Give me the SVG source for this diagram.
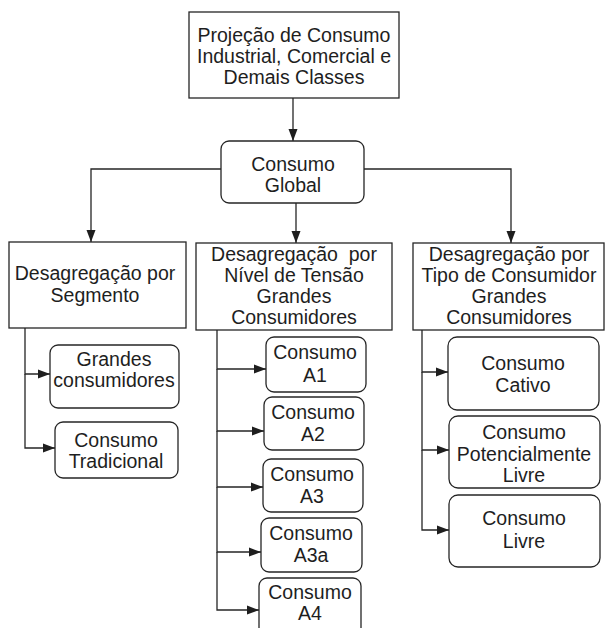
<svg xmlns="http://www.w3.org/2000/svg" width="605" height="628" viewBox="0 0 605 628">
  <style>
    .box { fill: #ffffff; stroke: #262626; stroke-width: 1.3; }
    .link { fill: none; stroke: #262626; stroke-width: 1.3; marker-end: url(#arrow); }
    text { font-family: "Liberation Sans", Arial, sans-serif; font-size: 19.5px; fill: #1e1e1e; text-anchor: middle; }
    .pre { white-space: pre; }
  </style>
  <defs>
    <marker id="arrow" markerUnits="userSpaceOnUse" markerWidth="12" markerHeight="12" viewBox="0 0 12 12" refX="12" refY="6" orient="auto">
      <path d="M0,1.5 L12,6 L0,10.5 Z" fill="#1e1e1e"/>
    </marker>
  </defs>

  <!-- connectors -->
  <g id="connectors">
    <path class="link" d="M293,98 V141"/>
    <path class="link" d="M221,169 H91 V242"/>
    <path class="link" d="M296,203 V243"/>
    <path class="link" d="M364,169 H511 V243"/>

    <path class="link" d="M25,328 V374 H50"/>
    <path class="link" d="M25,374 V448 H55"/>

    <path class="link" d="M217,330 V369 H266"/>
    <path class="link" d="M217,369 V431 H264"/>
    <path class="link" d="M217,431 V487 H263"/>
    <path class="link" d="M217,487 V552 H261"/>
    <path class="link" d="M217,552 V610 H259"/>

    <path class="link" d="M422,330 V372 H448"/>
    <path class="link" d="M422,372 V450 H449"/>
    <path class="link" d="M422,450 V530 H449"/>
  </g>

  <!-- top -->
  <g id="projecao">
    <rect class="box" x="189" y="12" width="210" height="86"/>
    <text x="294" y="42">Projeção de Consumo</text>
    <text x="294" y="63">Industrial, Comercial e</text>
    <text x="294" y="84">Demais Classes</text>
  </g>

  <g id="consumo-global">
    <rect class="box" x="221" y="141" width="143" height="62" rx="8"/>
    <text x="293" y="171">Consumo</text>
    <text x="293" y="192">Global</text>
  </g>

  <!-- level 2 -->
  <g id="segmento">
    <rect class="box" x="9" y="242" width="177" height="86"/>
    <text x="95" y="280">Desagregação por</text>
    <text x="95" y="302">Segmento</text>
  </g>

  <g id="nivel-tensao">
    <rect class="box" x="196" y="243" width="196" height="87"/>
    <text class="pre" x="294" y="261" xml:space="preserve">Desagregação  por</text>
    <text x="294" y="282">Nível de Tensão</text>
    <text x="294" y="303">Grandes</text>
    <text x="294" y="324">Consumidores</text>
  </g>

  <g id="tipo-consumidor">
    <rect class="box" x="413" y="243" width="191" height="87"/>
    <text x="509" y="261">Desagregação por</text>
    <text x="509" y="282">Tipo de Consumidor</text>
    <text x="509" y="303">Grandes</text>
    <text x="509" y="324">Consumidores</text>
  </g>

  <!-- segmento children -->
  <g id="grandes-consumidores">
    <rect class="box" x="50" y="345" width="129" height="63" rx="8"/>
    <text x="114" y="366">Grandes</text>
    <text x="114" y="387">consumidores</text>
  </g>
  <g id="consumo-tradicional">
    <rect class="box" x="55" y="422" width="123" height="56" rx="8"/>
    <text x="116" y="447">Consumo</text>
    <text x="116" y="468">Tradicional</text>
  </g>

  <!-- nivel de tensao children -->
  <g id="consumo-a1">
    <rect class="box" x="266" y="337" width="100" height="55" rx="8"/>
    <text x="315" y="359">Consumo</text>
    <text x="315" y="382">A1</text>
  </g>
  <g id="consumo-a2">
    <rect class="box" x="264" y="397" width="100" height="53" rx="8"/>
    <text x="313" y="419">Consumo</text>
    <text x="313" y="441">A2</text>
  </g>
  <g id="consumo-a3">
    <rect class="box" x="263" y="459" width="100" height="53" rx="8"/>
    <text x="312" y="481">Consumo</text>
    <text x="312" y="503">A3</text>
  </g>
  <g id="consumo-a3a">
    <rect class="box" x="261" y="518" width="101" height="54" rx="8"/>
    <text x="311" y="540">Consumo</text>
    <text x="311" y="562">A3a</text>
  </g>
  <g id="consumo-a4">
    <rect class="box" x="259" y="578" width="102" height="60" rx="8"/>
    <text x="310" y="599">Consumo</text>
    <text x="310" y="620">A4</text>
  </g>

  <!-- tipo de consumidor children -->
  <g id="consumo-cativo">
    <rect class="box" x="448" y="337" width="151" height="73" rx="9"/>
    <text x="523" y="370">Consumo</text>
    <text x="523" y="392">Cativo</text>
  </g>
  <g id="consumo-potencialmente-livre">
    <rect class="box" x="449" y="416" width="151" height="72" rx="9"/>
    <text x="524" y="439">Consumo</text>
    <text x="524" y="461">Potencialmente</text>
    <text x="524" y="482">Livre</text>
  </g>
  <g id="consumo-livre">
    <rect class="box" x="449" y="495" width="151" height="72" rx="9"/>
    <text x="524" y="525">Consumo</text>
    <text x="524" y="548">Livre</text>
  </g>
</svg>
